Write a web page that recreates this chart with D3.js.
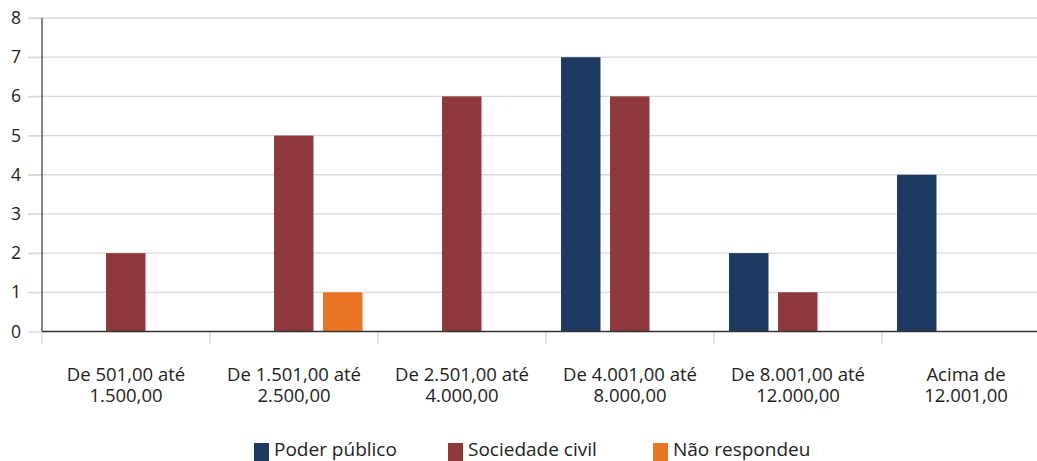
<!DOCTYPE html>
<html>
<head>
<meta charset="utf-8">
<script src="https://cdn.jsdelivr.net/npm/d3@7"></script>
<style>
  html, body { margin: 0; padding: 0; background: #fff; }
  svg { display: block; font-family: "Open Sans", "Noto Sans", sans-serif; }
</style>
</head>
<body>
<svg id="chart" width="1037" height="461"></svg>
<script>
// Faixas de renda (categorias do eixo X)
const categories = [
  ["De 501,00 até", "1.500,00"],
  ["De 1.501,00 até", "2.500,00"],
  ["De 2.501,00 até", "4.000,00"],
  ["De 4.001,00 até", "8.000,00"],
  ["De 8.001,00 até", "12.000,00"],
  ["Acima de", "12.001,00"]
];
const seriesNames = ["Poder público", "Sociedade civil", "Não respondeu"];
const poderPublico   = [0, 0, 0, 7, 2, 4];
const sociedadeCivil = [2, 5, 6, 6, 1, 0];
const naoRespondeu   = [0, 1, 0, 0, 0, 0];
const seriesValues = [poderPublico, sociedadeCivil, naoRespondeu];
const yTicks = [0, 1, 2, 3, 4, 5, 6, 7, 8];
const colors = ["#1e3a60", "#8e393d", "#e87425"];

const svg = d3.select("#chart");
const W = 1037;
const plotLeft = 42, plotRight = 1050, plotTop = 18, plotBottom = 331.5;

const catKeys = categories.map((c, i) => i);
const x0 = d3.scaleBand().domain(catKeys).range([plotLeft, plotRight]).padding(0);
const x1 = d3.scaleBand().domain(seriesNames)
  .range([15, x0.bandwidth() - 15.5]).paddingInner(0.194).paddingOuter(0);
const y = d3.scaleLinear().domain([0, 8]).range([plotBottom, plotTop]);

// Linhas de grade horizontais
svg.append("g").selectAll("line").data(yTicks.filter(t => t > 0)).join("line")
  .attr("x1", 28).attr("x2", W)
  .attr("y1", d => y(d)).attr("y2", d => y(d))
  .attr("stroke", "#d9d9d9").attr("stroke-width", 1.3);

// Eixo Y
const yAxis = svg.append("g").attr("transform", `translate(${plotLeft},0)`)
  .call(d3.axisLeft(y).tickValues(yTicks).tickSize(14).tickPadding(7));
yAxis.select(".domain").remove();
yAxis.selectAll(".tick line").attr("stroke", "#d9d9d9").attr("stroke-width", 1.3);
yAxis.selectAll(".tick text").attr("fill", "#222").attr("font-size", 17.5)
  .attr("font-family", "Open Sans, sans-serif");

// Barras
const groups = svg.append("g").selectAll("g").data(catKeys).join("g")
  .attr("transform", d => `translate(${x0(d)},0)`);
groups.selectAll("rect")
  .data(ci => seriesNames.map((s, si) => ({ s, si, v: seriesValues[si][ci] })).filter(d => d.v > 0))
  .join("rect")
  .attr("x", d => x1(d.s))
  .attr("width", x1.bandwidth())
  .attr("y", d => y(d.v))
  .attr("height", d => y(0) - y(d.v))
  .attr("fill", d => colors[d.si]);

// Marcas de separação das categorias
const bounds = catKeys.map(k => x0(k)).concat([plotRight]);
svg.append("g").selectAll("line").data(bounds).join("line")
  .attr("x1", d => d).attr("x2", d => d)
  .attr("y1", plotBottom).attr("y2", plotBottom + 12)
  .attr("stroke", "#d9d9d9").attr("stroke-width", 1.3);

// Eixos (linha vertical e linha de base)
svg.append("line").attr("x1", plotLeft).attr("x2", plotLeft).attr("y1", plotTop).attr("y2", plotBottom)
  .attr("stroke", "#444").attr("stroke-width", 1.3);
svg.append("line").attr("x1", plotLeft).attr("x2", W).attr("y1", plotBottom).attr("y2", plotBottom)
  .attr("stroke", "#333").attr("stroke-width", 1.5);

// Rótulos das categorias (duas linhas cada)
const labels = svg.append("g").selectAll("text").data(catKeys).join("text")
  .attr("x", d => x0(d) + x0.bandwidth() / 2)
  .attr("y", 381)
  .attr("text-anchor", "middle")
  .attr("font-size", 18.5)
  .attr("fill", "#222");
labels.selectAll("tspan").data(d => categories[d]).join("tspan")
  .attr("x", function () { return d3.select(this.parentNode).attr("x"); })
  .attr("dy", (d, i) => i === 0 ? 0 : 21)
  .text(d => d);

// Legenda
const legendX = [254, 448, 653];
const legend = svg.append("g").selectAll("g").data(seriesNames).join("g")
  .attr("transform", (d, i) => `translate(${legendX[i]},0)`);
legend.append("rect").attr("x", 0).attr("y", 443).attr("width", 15).attr("height", 18)
  .attr("fill", (d, i) => colors[i]);
legend.append("text").attr("x", 20).attr("y", 456)
  .attr("font-size", 19).attr("fill", "#222").text(d => d);
</script>
</body>
</html>
